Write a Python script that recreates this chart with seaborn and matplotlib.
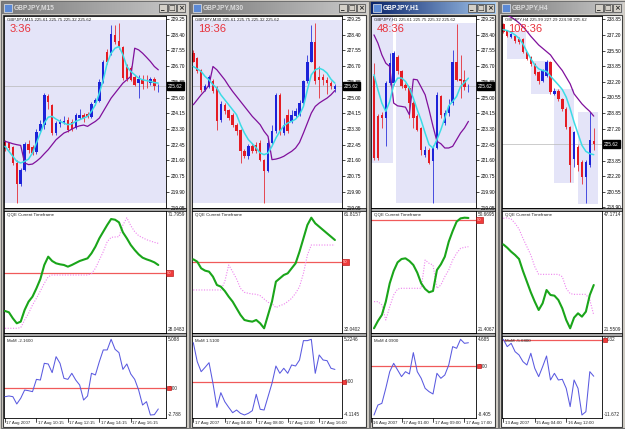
import numpy as np
import matplotlib
matplotlib.use("Agg")
import matplotlib.pyplot as plt
import matplotlib.transforms as mtransforms
from matplotlib.colors import LinearSegmentedColormap
from matplotlib.patches import Rectangle
import seaborn as sns

# ---------------- GBPJPY M15 ----------------
m15_open = [222.62, 222.55, 222.30, 221.45, 220.30, 221.10, 222.50, 222.35, 222.05, 223.20,
            223.50, 225.10, 224.60, 223.10, 223.55, 223.60, 223.80, 223.70, 223.35, 223.90,
            224.05, 224.10, 223.95, 224.70, 224.80, 225.85, 227.45, 227.40, 228.40, 228.05,
            227.75, 226.65, 226.60, 226.10, 225.80, 226.00, 225.95, 225.80, 226.00, 225.61]
m15_high = [222.70, 222.60, 222.40, 221.60, 221.20, 222.60, 222.70, 222.45, 223.30, 223.80,
            225.25, 225.20, 224.65, 223.75, 223.85, 224.00, 223.95, 223.85, 224.15, 224.40,
            224.15, 224.20, 224.75, 225.00, 226.00, 227.05, 227.60, 228.95, 228.95, 229.05,
            227.80, 226.80, 226.70, 226.20, 226.20, 226.20, 226.20, 226.10, 226.10, 225.75]
m15_low = [222.10, 222.15, 221.35, 219.30, 220.20, 221.00, 222.00, 221.90, 221.95, 223.10,
           223.30, 224.40, 222.95, 223.00, 223.40, 223.55, 223.15, 223.20, 223.30, 223.85,
           223.70, 223.90, 223.90, 224.60, 224.75, 225.80, 226.80, 227.30, 227.90, 227.60,
           225.95, 225.90, 225.90, 225.60, 224.95, 225.45, 225.50, 225.70, 225.40, 225.32]
m15_close = [222.20, 222.25, 221.45, 220.30, 221.10, 222.50, 222.15, 222.00, 223.15, 223.55,
             225.15, 224.75, 223.10, 223.60, 223.70, 223.75, 223.25, 223.30, 224.05, 224.05,
             223.90, 223.95, 224.65, 224.85, 225.85, 226.90, 226.95, 228.45, 228.00, 227.75,
             226.05, 226.00, 225.95, 225.70, 226.00, 225.75, 225.90, 226.00, 225.60, 225.62]
m15_fast = [222.36, 222.09, 221.82, 221.55, 221.46, 221.55, 221.67, 222.00, 222.54, 223.08,
            223.62, 223.94, 223.98, 223.83, 223.71, 223.62, 223.53, 223.58, 223.71, 223.80,
            223.89, 223.98, 224.25, 224.61, 225.24, 225.96, 226.86, 227.40, 227.67, 227.76,
            227.31, 226.68, 226.41, 226.23, 226.05, 225.96, 225.92, 225.87, 225.81, 225.78]
m15_slow = [222.63, 222.57, 222.50, 222.45, 222.41, 221.46, 221.37, 221.40, 221.55, 221.73,
            221.96, 222.18, 222.45, 222.72, 222.90, 223.08, 223.17, 223.29, 223.40, 223.47,
            223.51, 223.44, 223.58, 223.71, 223.89, 224.25, 224.61, 224.97, 225.24, 225.51,
            225.78, 225.96, 226.14, 227.67, 227.58, 227.40, 227.18, 226.95, 226.68, 226.50]
m15_qqe = [34.90, 34.37, 32.00, 30.03, 30.69, 35.30, 38.59, 40.57, 43.86, 47.55,
           53.09, 56.38, 54.67, 53.75, 53.35, 53.09, 52.43, 53.09, 53.88, 54.67,
           55.20, 55.72, 57.70, 60.34, 63.63, 66.27, 68.90, 71.27, 71.00, 69.95,
           66.00, 63.63, 60.99, 59.02, 57.30, 55.99, 55.33, 54.80, 54.14, 53.09]
m15_trail = [28.05, 28.05, 28.05, 28.05, 28.31, 31.34, 33.98, 37.27, 39.91, 42.81,
             45.84, 48.48, 49.13, 49.13, 49.13, 49.13, 49.13, 49.13, 49.13, 49.13,
             49.13, 49.13, 49.66, 51.77, 55.06, 58.36, 62.31, 64.03, 64.16, 64.29,
             68.90, 71.80, 68.64, 66.27, 64.68, 63.89, 63.10, 62.58, 62.05, 61.65]
m15_mom = [-0.88, -0.81, -0.88, -1.64, -1.05, -0.19, -0.26, -0.36, 0.92, 0.85,
           2.59, 2.52, 1.62, 3.28, 2.59, 1.03, 0.92, 1.55, 0.85, 0.33,
           -1.23, -0.81, 1.55, 1.38, 2.76, 3.98, 3.98, 5.09, 4.05, 3.70,
           1.96, 2.52, 1.48, 0.92, -0.19, -1.75, -1.40, -2.79, -2.75, -2.16]
m15_boxes = [(-1, 42, 219.30, 229.20)]
m15_dates = [(0, "17 Aug 2007"), (8, "17 Aug 10:15"), (16, "17 Aug 12:15"),
             (24, "17 Aug 14:15"), (32, "17 Aug 16:15")]

# ---------------- GBPJPY M30 ----------------
m30_open = [227.40, 227.13, 226.50, 225.42, 225.56, 225.87, 225.51, 223.80, 224.61, 224.34,
            224.07, 223.53, 223.26, 222.09, 221.82, 222.40, 222.45, 222.54, 221.64, 221.01,
            222.54, 223.17, 225.15, 223.08, 224.07, 223.71, 223.98, 224.07, 224.70, 225.87,
            226.95, 228.03, 226.10, 226.10, 225.96, 225.78, 225.45]
m30_high = [227.55, 227.20, 226.55, 225.75, 226.20, 226.00, 225.60, 224.80, 224.70, 224.40,
            224.15, 223.60, 223.30, 222.20, 222.50, 222.55, 222.60, 222.70, 221.70, 222.70,
            223.50, 225.25, 225.25, 223.90, 224.40, 224.30, 224.45, 224.85, 225.95, 227.30,
            228.93, 229.02, 226.70, 226.30, 226.10, 225.90, 225.75]
m30_low = [226.90, 226.35, 225.30, 225.35, 225.50, 225.25, 223.25, 223.70, 224.10, 223.80,
           223.40, 223.00, 221.46, 221.75, 221.70, 222.00, 222.00, 221.55, 219.30, 220.95,
           222.45, 223.10, 222.95, 222.95, 223.10, 223.60, 223.90, 224.00, 224.60, 225.80,
           226.90, 225.75, 224.97, 225.70, 225.20, 225.45, 225.32]
m30_close = [226.95, 226.41, 225.42, 225.63, 226.10, 225.33, 223.71, 224.66, 224.25, 223.89,
             223.53, 223.17, 222.09, 221.82, 222.36, 222.09, 222.09, 221.64, 221.01, 222.54,
             223.17, 225.15, 223.17, 223.53, 223.17, 224.07, 224.25, 224.70, 225.87, 226.95,
             228.03, 225.87, 225.96, 225.96, 225.78, 225.60, 225.62]
m30_fast = [226.68, 226.55, 226.41, 226.14, 225.96, 225.69, 225.51, 225.15, 224.88, 224.61,
            224.34, 224.07, 223.53, 223.08, 222.72, 222.50, 222.27, 222.00, 221.91, 222.00,
            222.36, 222.81, 223.17, 223.47, 223.62, 223.71, 223.83, 224.07, 224.52, 225.42,
            226.23, 226.50, 226.59, 226.50, 226.32, 225.99, 225.78]
m30_slow = [224.61, 224.88, 225.15, 225.38, 225.69, 226.68, 226.50, 226.23, 225.96, 225.63,
            225.33, 225.06, 224.79, 224.52, 224.25, 223.98, 223.76, 223.53, 223.17, 222.90,
            221.64, 221.67, 221.73, 221.82, 221.96, 222.09, 222.27, 222.57, 223.08, 223.62,
            224.16, 224.52, 224.70, 224.84, 224.97, 225.15, 225.38]
m30_qqe = [50.61, 49.98, 48.19, 47.56, 47.29, 45.94, 43.70, 43.25, 42.09, 40.56,
           39.22, 37.42, 35.63, 34.28, 34.01, 33.83, 34.28, 33.38, 32.04, 35.63,
           39.22, 44.60, 45.49, 46.39, 46.84, 48.19, 49.53, 52.67, 56.26, 59.85,
           61.82, 60.30, 59.40, 58.50, 57.60, 56.71, 55.81]
m30_trail = [42.36, 42.36, 42.36, 42.36, 42.36, 42.36, 42.36, 42.36, 44.60, 49.08,
             47.29, 45.32, 42.80, 41.73, 41.46, 41.28, 41.19, 40.83, 39.93, 39.04,
             38.68, 37.60, 38.14, 38.50, 39.22, 40.11, 41.46, 43.25, 46.84, 51.77,
             54.46, 54.46, 54.46, 54.46, 54.46, 54.46, 54.46]
m30_mom = [4.81, 2.47, 1.23, 1.77, 2.34, -0.21, -3.17, -1.36, -2.47, -3.17,
           -3.83, -3.50, -3.91, -4.11, -3.91, -3.58, -1.56, -3.41, -3.50, -1.85,
           -0.21, 1.93, 1.03, 1.65, 1.03, 2.06, 1.93, 2.67, 5.06, 5.06,
           5.22, 1.03, 3.29, 2.67, 2.59, 1.65, 1.51]
m30_boxes = [(-1, 39, 219.30, 229.20)]
m30_dates = [(0, "17 Aug 2007"), (8, "17 Aug 04:00"), (16, "17 Aug 08:00"),
             (24, "17 Aug 12:00"), (32, "17 Aug 16:00")]

# ---------------- GBPJPY H1 ----------------
h1_open = [226.14, 223.98, 224.07, 223.89, 225.78, 225.78, 227.18, 226.41, 225.69, 225.51,
           224.70, 223.98, 223.35, 221.91, 222.18, 221.55, 222.27, 225.06, 223.62, 224.16,
           224.70, 226.95, 226.00, 225.96, 225.61]
h1_high = [226.86, 224.10, 224.20, 225.90, 227.40, 227.50, 227.30, 226.50, 225.80, 225.60,
           224.80, 224.10, 223.40, 222.40, 222.25, 222.45, 225.30, 225.15, 224.30, 224.90,
           227.55, 229.00, 227.30, 226.50, 225.75]
h1_low = [221.60, 221.60, 223.35, 222.36, 225.70, 225.70, 226.30, 225.50, 225.40, 223.89,
          223.35, 223.20, 221.91, 221.80, 221.40, 219.30, 222.20, 223.90, 223.50, 224.00,
          224.60, 225.90, 224.97, 225.40, 225.32]
h1_close = [221.73, 221.73, 223.89, 225.78, 226.86, 227.40, 226.41, 225.60, 225.51, 224.70,
            223.89, 223.26, 222.18, 222.18, 221.46, 222.27, 225.15, 224.07, 224.16, 224.52,
            226.95, 225.96, 225.87, 225.56, 225.62]
h1_fast = [226.23, 225.42, 224.70, 224.25, 224.79, 225.69, 226.05, 226.06, 225.87, 225.51,
           224.97, 224.34, 223.76, 223.08, 222.45, 222.27, 222.72, 223.26, 223.89, 224.55,
           224.79, 225.06, 225.60, 225.81, 226.05]
h1_slow = [228.39, 227.94, 227.31, 226.86, 226.68, 224.70, 224.55, 224.52, 224.48, 224.07,
           225.99, 225.96, 225.56, 225.15, 224.34, 223.44, 222.63, 222.50, 222.27, 222.27,
           222.36, 222.72, 223.08, 223.35, 223.71]
h1_qqe = [21.41, 23.35, 24.94, 28.46, 33.31, 36.57, 38.86, 39.74, 39.92, 39.21,
          38.16, 36.13, 33.31, 31.81, 30.93, 31.28, 36.83, 38.33, 40.36, 44.32,
          47.14, 49.61, 50.49, 50.67, 50.60]
h1_trail = [28.46, 28.46, 27.58, 23.61, 27.14, 30.22, 31.81, 31.99, 31.99, 31.99,
            31.99, 31.99, 31.99, 39.48, 38.60, 38.16, 31.99, 32.87, 35.07, 36.83,
            39.48, 41.24, 42.56, 42.83, 43.00]
h1_mom = [-8.41, -6.68, -6.39, -3.79, -0.91, 0.53, -0.62, -1.77, -0.91, -1.31,
          2.38, -0.91, -2.06, -3.79, -4.37, -4.77, -1.20, -2.06, -1.49, 0.24,
          3.42, 3.13, 4.685, 3.99, 4.09]
h1_boxes = [(-2, 4.95, 221.46, 229.60), (5.6, 27, 219.30, 229.02)]
h1_dates = [(-0.7, "16 Aug 2007"), (7, "17 Aug 01:00"), (15, "17 Aug 09:00"), (23, "17 Aug 17:00")]

# ---------------- GBPJPY H4 ----------------
h4_open = [238.32, 237.62, 236.91, 237.09, 236.74, 236.74, 235.33, 234.80, 234.10, 233.22,
           232.34, 232.87, 234.27, 230.93, 231.28, 230.40, 229.35, 227.41, 224.07, 225.30,
           223.72, 222.13, 223.37, 225.99]
h4_high = [238.45, 237.70, 237.40, 237.20, 236.90, 236.80, 235.40, 234.90, 234.20, 233.30,
           233.60, 234.50, 234.40, 231.50, 231.40, 230.50, 229.50, 227.50, 227.00, 225.50,
           223.90, 223.90, 229.00, 227.29]
h4_low = [237.35, 236.95, 236.80, 236.30, 236.20, 235.20, 234.50, 233.90, 232.90, 232.00,
          232.20, 232.70, 230.90, 230.80, 230.20, 229.10, 227.20, 221.60, 223.20, 222.80,
          221.40, 219.42, 223.20, 224.98]
h4_close = [237.44, 237.09, 237.27, 236.56, 236.46, 235.33, 234.63, 234.10, 233.04, 232.34,
            233.40, 234.34, 231.11, 231.28, 230.40, 229.35, 227.41, 223.37, 226.89, 223.37,
            222.13, 223.72, 226.00, 225.62]
h4_fast = [237.72, 237.62, 237.44, 237.16, 236.81, 236.21, 235.40, 234.63, 233.99, 233.57,
           233.40, 233.29, 232.80, 232.34, 231.88, 231.39, 230.58, 229.35, 227.94, 226.71,
           225.48, 224.84, 224.60, 224.49]
h4_slow = [239.48, 239.27, 239.03, 238.78, 238.43, 238.04, 237.55, 237.02, 236.56, 236.10,
           235.75, 235.40, 235.05, 234.45, 233.92, 233.40, 232.69, 231.99, 230.93, 230.40,
           229.87, 229.45, 229.07, 228.57]
h4_qqe = [40.99, 40.22, 39.30, 38.53, 37.60, 34.82, 32.35, 29.88, 27.72, 25.79,
          27.34, 30.42, 29.27, 29.11, 28.11, 26.18, 23.48, 21.55, 24.02, 25.02,
          24.25, 25.41, 29.27, 31.58]
h4_trail = [47.02, 47.17, 46.86, 45.86, 44.55, 42.39, 40.46, 38.53, 35.83, 34.05,
            34.05, 34.05, 34.05, 34.05, 34.05, 33.51, 30.81, 29.58, 29.42, 29.42,
            29.42, 29.42, 28.11, 24.64]
h4_mom = [0.03, -1.10, -0.59, -1.88, -2.39, -3.42, -3.94, -2.13, -4.45, -5.74,
          -4.20, -2.55, -6.26, -5.23, -6.26, -6.15, -7.55, -10.38, -6.26, -7.55,
          -11.67, -11.16, -4.97, -5.68]
h4_boxes = [(0.85, 5.9, 234.63, 237.62), (7.0, 11.9, 230.93, 234.45),
            (13.0, 18.0, 221.50, 231.46), (19.1, 24.0, 219.32, 229.00)]
h4_dates = [(0, "13 Aug 2007"), (8, "15 Aug 04:00"), (16, "16 Aug 12:00")]

ticks_a = [229.25, 228.40, 227.55, 226.70, 225.85, 225.00, 224.15, 223.30, 222.45, 221.60,
           220.75, 219.90, 219.05]
ticks_b = [238.85, 237.20, 235.50, 233.85, 232.20, 230.55, 228.85, 227.20, 225.55, 223.85,
           222.20, 220.55, 218.90]

windows = [
    dict(title="GBPJPY,M15", hdr="225.61 225.75 225.32 225.62", timer="3:36",
         o=m15_open, h=m15_high, l=m15_low, c=m15_close, fast=m15_fast, slow=m15_slow,
         qqe=m15_qqe, trail=m15_trail, mom=m15_mom, boxes=m15_boxes, dates=m15_dates,
         ticks=ticks_a, qlbl=("71.7959", "28.0483"), mlbl=("5.088", "-2.788"),
         mhdr="MoM -2.1600", active=False, frame=(0, 189), plot=(4, 166), pad=(0.25, 1.96)),
    dict(title="GBPJPY,M30", hdr="225.61 225.75 225.32 225.62", timer="18:36",
         o=m30_open, h=m30_high, l=m30_low, c=m30_close, fast=m30_fast, slow=m30_slow,
         qqe=m30_qqe, trail=m30_trail, mom=m30_mom, boxes=m30_boxes, dates=m30_dates,
         ticks=ticks_a, qlbl=("61.8157", "32.0402"), mlbl=("5.2246", "-4.1145"),
         mhdr="MoM 1.5100", active=False, frame=(189, 369), plot=(192, 342), pad=(0.33, 1.8)),
    dict(title="GBPJPY,H1", hdr="225.61 225.75 225.32 225.62", timer="48:36",
         o=h1_open, h=h1_high, l=h1_low, c=h1_close, fast=h1_fast, slow=h1_slow,
         qqe=h1_qqe, trail=h1_trail, mom=h1_mom, boxes=h1_boxes, dates=h1_dates,
         ticks=ticks_a, qlbl=("50.6695", "21.4067"), mlbl=("4.685", "-8.405"),
         mhdr="MoM 4.0900", active=True, frame=(369, 498), plot=(371, 476), pad=(0.76, 1.93)),
    dict(title="GBPJPY,H4", hdr="225.99 227.29 224.98 225.62", timer="108:36",
         o=h4_open, h=h4_high, l=h4_low, c=h4_close, fast=h4_fast, slow=h4_slow,
         qqe=h4_qqe, trail=h4_trail, mom=h4_mom, boxes=h4_boxes, dates=h4_dates,
         ticks=ticks_b, qlbl=("47.1714", "21.5509"), mlbl=("0.032", "-11.672"),
         mhdr="MoM -5.6800", active=False, frame=(498, 625), plot=(502, 602), pad=(0.33, 2.1)),
]

sns.set_style("white")
plt.rcParams["font.family"] = ["Liberation Sans", "DejaVu Sans"]

W, H = 625, 429
fig = plt.figure(figsize=(W / 100, H / 100), dpi=100)
fig.patch.set_facecolor("#d4d0c8")
bg = fig.add_axes([0, 0, 1, 1])
bg.axis("off")


def rect(x0, y0, x1, y1):
    return [x0 / W, 1 - y1 / H, (x1 - x0) / W, (y1 - y0) / H]


def nudge(trans, dx=0, dy=0):
    # shift in pixels (dpi = 100)
    return trans + mtransforms.ScaledTranslation(dx / 100, dy / 100, fig.dpi_scale_trans)


def style_ax(ax):
    ax.set_xlabel("")
    ax.set_ylabel("")
    ax.set_xticks([])
    for s in ax.spines.values():
        s.set_color("black")
        s.set_linewidth(0.6)


BULL, BEAR = "#1c22d8", "#e41c24"
CYAN, PURPLE = "#3cdce6", "#80109c"
LAVENDER = "#e4e4f8"
FS = 3.4     # axis numbers
FT = 3.2     # small captions
idle_cmap = LinearSegmentedColormap.from_list("idle", ["#7a7a7a", "#cacaca"])
act_cmap = LinearSegmentedColormap.from_list("act", ["#0a246a", "#a6caf0"])

for w in windows:
    fx0, fx1 = w["frame"]
    px0, px1 = w["plot"]
    n = len(w["o"])
    idx = np.arange(n)
    xlim = (-w["pad"][0], n - 1 + w["pad"][1])

    # window chrome
    bg.add_patch(Rectangle((fx0 + 0.5, 0.5), fx1 - fx0 - 1, H - 1.5,
                           fc="#d4d0c8", ec="#707070", lw=0.8, zorder=0))
    bg.imshow(np.linspace(0, 1, 64)[None, :], extent=(fx0 + 2, fx1 - 2, 14, 2),
              cmap=act_cmap if w["active"] else idle_cmap, aspect="auto", zorder=1)
    bg.add_patch(Rectangle((fx0 + 3.5, 3.5), 8, 8, fc="#5c8ad6", ec="#e8e8e8", lw=0.5, zorder=2))
    bg.text(fx0 + 14, 8.2, w["title"], fontsize=4.8, fontweight="bold", va="center",
            color="white" if w["active"] else "#dcdcdc", zorder=3)
    for k, g in enumerate(["_", "\u25a1", "\u00d7"]):
        bx = fx1 - 30 + k * 9
        bg.add_patch(Rectangle((bx, 3.5), 8, 8, fc="#d4d0c8", ec="#404040", lw=0.5, zorder=2))
        bg.text(bx + 4, 7.8, g, fontsize=5, ha="center", va="center", fontweight="bold",
                family=["DejaVu Sans"], zorder=3)
    bg.add_patch(Rectangle((fx0 + 3, 15), fx1 - fx0 - 6, H - 17,
                           fc="white", ec="#404040", lw=0.8, zorder=1))
    for y0 in (208, 333):
        bg.add_patch(Rectangle((px0, y0), fx1 - 3 - px0, 3, fc="#a8a8a8", ec="black",
                               lw=0.5, zorder=2))

    # ---- price panel ----
    ax = fig.add_axes(rect(px0, 16, px1, 208))
    for s, e, lo, hi in w["boxes"]:
        ax.add_patch(Rectangle((s, lo), e - s, hi - lo, fc=LAVENDER, ec="none", zorder=0.5))
    last = w["c"][-1]
    ax.axhline(last, color="#b8b8b8", lw=0.5, zorder=1)
    o, c = np.array(w["o"]), np.array(w["c"])
    up = c >= o
    cols = np.where(up, BULL, BEAR)
    ticks = w["ticks"]
    per = (ticks[0] - ticks[-1]) / 188.5
    ax.vlines(idx, w["l"], w["h"], colors=cols, lw=0.55, zorder=2)
    ax.bar(idx, np.maximum(np.abs(c - o), 0.6 * per), bottom=np.minimum(o, c),
           width=0.62, color=cols, lw=0, zorder=2.5)
    sns.lineplot(x=idx, y=w["slow"], ax=ax, color=PURPLE, linewidth=0.9, zorder=3)
    sns.lineplot(x=idx, y=w["fast"], ax=ax, color=CYAN, linewidth=1.1, zorder=3.2)
    ax.set_xlim(*xlim)
    ax.set_ylim(ticks[-1] - 0.5 * per, ticks[0] + 3 * per)
    style_ax(ax)
    ax.yaxis.tick_right()
    ax.set_yticks(ticks)
    # a label sitting right under the current-price tag is hidden by it
    ax.set_yticklabels(["" if abs(t - last) < 3.5 * per else f"{t:.2f}" for t in ticks])
    ax.tick_params(axis="y", length=2, width=0.5, pad=1.5, labelsize=FS, colors="black")
    yb = mtransforms.blended_transform_factory(ax.transAxes, ax.transData)
    ax.text(1.0, last, f"{last:.2f}", transform=nudge(yb, 2), fontsize=FS, color="white",
            va="center", ha="left", zorder=5, clip_on=False,
            bbox=dict(boxstyle="square,pad=0.25", fc="black", ec="black"))
    ax.text(0, 1, f"{w['title']} {w['hdr']}", transform=nudge(ax.transAxes, 3, -1.5),
            fontsize=FT, va="top", ha="left", zorder=5)
    ax.text(0, 1, w["timer"], transform=nudge(ax.transAxes, 6, -7.5), fontsize=8,
            color="#e8323c", va="top", ha="left", zorder=5)

    # ---- QQE panel ----
    aq = fig.add_axes(rect(px0, 211, px1, 333))
    qtop, qbot = float(w["qlbl"][0]), float(w["qlbl"][1])
    qper = (qtop - qbot) / 110.6
    aq.axhline(50, color="#f05a5a", lw=0.9, zorder=1)
    sns.lineplot(x=idx, y=w["trail"], ax=aq, color="#ee82ee", linewidth=0.8,
                 linestyle=(0, (1, 1.4)), zorder=2)
    sns.lineplot(x=idx, y=w["qqe"], ax=aq, color="#1aa51a", linewidth=1.5, zorder=3)
    aq.set_xlim(*xlim)
    aq.set_ylim(qbot - 4.7 * qper, qtop + 6.7 * qper)
    style_ax(aq)
    aq.set_yticks([])
    aq.text(0, 1, "QQE Current Timeframe", transform=nudge(aq.transAxes, 3, -2),
            fontsize=FT, va="top", ha="left")
    aq.text(1, 1, w["qlbl"][0], transform=nudge(aq.transAxes, 2, -1), fontsize=FS,
            va="top", ha="left", clip_on=False)
    aq.text(1, 0, w["qlbl"][1], transform=nudge(aq.transAxes, 2, 1), fontsize=FS,
            va="bottom", ha="left", clip_on=False)
    if qbot < 50 < qtop + 6 * qper:
        qb = mtransforms.blended_transform_factory(aq.transAxes, aq.transData)
        aq.text(1, 50, "50", transform=nudge(qb, 1), fontsize=3.1, color="#ffe0e0",
                va="center", ha="left", clip_on=False, zorder=6,
                bbox=dict(boxstyle="square,pad=0.25", fc="#f03c3c", ec="#b00000", lw=0.4))

    # ---- MoM panel ----
    am = fig.add_axes(rect(px0, 336, px1, 418))
    mtop, mbot = float(w["mlbl"][0]), float(w["mlbl"][1])
    mper = (mtop - mbot) / 75.7
    am.axhline(0, color="#f05a5a", lw=0.9, zorder=1)
    sns.lineplot(x=idx, y=w["mom"], ax=am, color="#5a5ae0", linewidth=0.75, zorder=3)
    am.set_xlim(*xlim)
    am.set_ylim(mbot - 3 * mper, mtop + 3.3 * mper)
    style_ax(am)
    am.set_yticks([])
    mb = mtransforms.blended_transform_factory(am.transAxes, am.transData)
    am.text(0, 1, w["mhdr"], transform=nudge(am.transAxes, 3, -3), fontsize=FT,
            va="top", ha="left")
    am.text(1, mtop, w["mlbl"][0], transform=nudge(mb, 2), fontsize=FS, va="center",
            ha="left", clip_on=False, zorder=5)
    am.text(1, mbot, w["mlbl"][1], transform=nudge(mb, 2), fontsize=FS, va="center",
            ha="left", clip_on=False)
    am.plot([1], [0], transform=nudge(mb, 2.5), marker="s", ms=3.2, color="#f03c3c",
            mec="#b00000", mew=0.4, clip_on=False, zorder=6)
    if mtop > 0.5:
        am.text(1, 0, "0.00", transform=nudge(mb, 3), fontsize=FS, va="center",
                ha="left", clip_on=False, zorder=5)

    # time axis
    xb = mtransforms.blended_transform_factory(am.transData, am.transAxes)
    for pos, lab in w["dates"]:
        am.plot([pos, pos], [0, -0.045], transform=xb, color="black", lw=0.5,
                clip_on=False)
        am.text(pos, 0, lab, transform=nudge(xb, 1.5, -5.2), fontsize=FT, va="center",
                ha="left", clip_on=False)

bg.set_xlim(0, W)
bg.set_ylim(H, 0)

fig.savefig("out.png", dpi=100, facecolor=fig.get_facecolor())
